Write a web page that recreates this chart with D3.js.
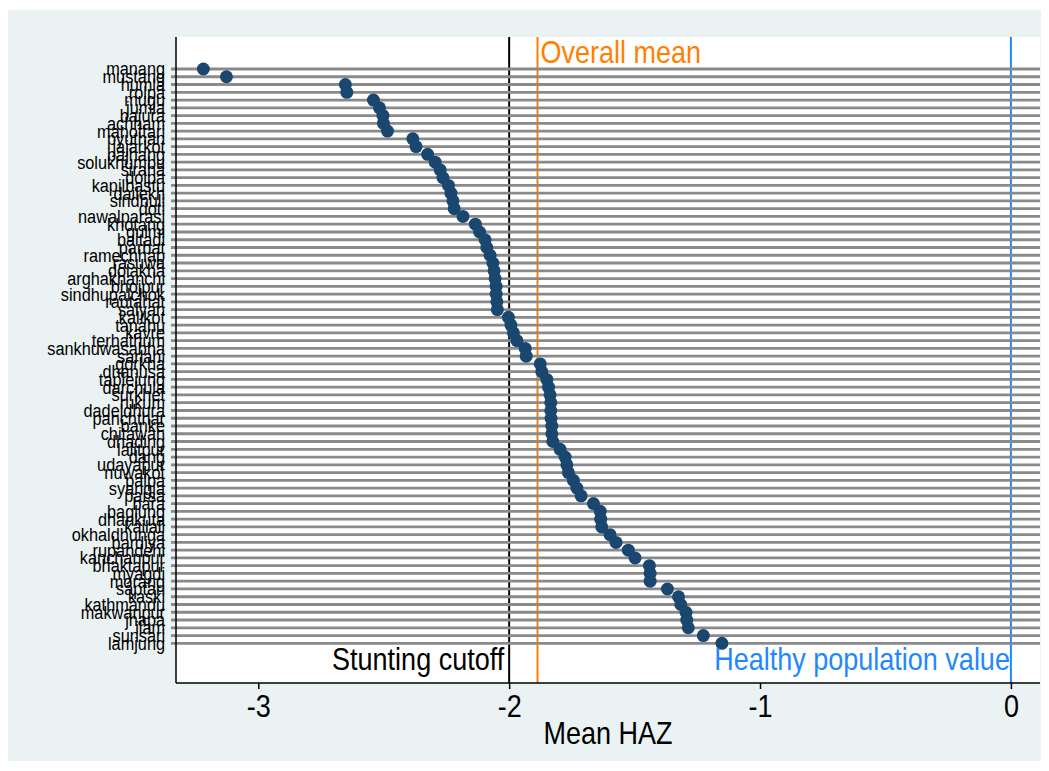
<!DOCTYPE html>
<html>
<head>
<meta charset="utf-8">
<script src="https://cdn.jsdelivr.net/npm/d3@7"></script>
<style>
  body { margin: 0; background: #ffffff; }
  svg { display: block; }
  text { font-family: "Liberation Sans", Arial, sans-serif; }
</style>
</head>
<body>
<script>
// districts, sorted by mean HAZ (top to bottom)
var districts = [
  'manang', 'mustang', 'humla', 'rolpa', 'mugu', 'jumla', 'bajura', 'achham', 'mahottari', 'pyuthan',
  'jajarkot', 'bajhang', 'solukhumbu', 'siraha', 'dolpa', 'kapilbastu', 'dailekh', 'sindhuli', 'doti', 'nawalparasi',
  'khotang', 'gulmi', 'baitadi', 'parbat', 'ramechhap', 'rasuwa', 'dolakha', 'arghakhanchi', 'bhojpur', 'sindhupalchok',
  'rautahat', 'salyan', 'kalikot', 'tanahu', 'kavre', 'terhathum', 'sankhuwasabha', 'sarlahi', 'gorkha', 'dhanusa',
  'taplejung', 'darchula', 'surkhet', 'rukum', 'dadeldhura', 'panchthar', 'banke', 'chitawan', 'dhading', 'lalitpur',
  'dang', 'udayapur', 'nuwakot', 'palpa', 'syangja', 'parsa', 'bara', 'baglung', 'dhankuta', 'kailali',
  'okhaldhunga', 'bardiya', 'rupandehi', 'kanchanpur', 'bhaktapur', 'myagdi', 'morang', 'saptari', 'kaski', 'kathmandu',
  'makwanpur', 'jhapa', 'ilam', 'sunsari', 'lamjung'
];

var meanHaz = [
  -3.219, -3.127, -2.653, -2.647, -2.541, -2.517, -2.503, -2.501, -2.485, -2.384,
  -2.371, -2.325, -2.295, -2.275, -2.264, -2.242, -2.232, -2.224, -2.219, -2.184,
  -2.135, -2.118, -2.096, -2.089, -2.076, -2.065, -2.060, -2.056, -2.052, -2.052,
  -2.049, -2.047, -2.003, -1.993, -1.983, -1.969, -1.936, -1.932, -1.876, -1.870,
  -1.850, -1.843, -1.837, -1.834, -1.834, -1.833, -1.830, -1.830, -1.826, -1.797,
  -1.777, -1.770, -1.764, -1.744, -1.730, -1.713, -1.664, -1.637, -1.635, -1.631,
  -1.598, -1.574, -1.525, -1.498, -1.441, -1.438, -1.438, -1.369, -1.325, -1.316,
  -1.295, -1.292, -1.286, -1.226, -1.152
];

var xTicks = [-3, -2, -1, 0];

// reference lines
var stuntingCutoff = -2;
var overallMean = -1.887;
var healthyValue = 0;

var chart = function() {
  var width = 1049;
  var height = 771;
  var plotLeft = 176;
  var plotRight = 1040;
  var plotTop = 37;
  var plotBottom = 683;
  var stretch = 1.14; // stata's glyphs come out taller than arial
  var bigFont = '27px';
  var svg, x, y;

  var createSvg = function() {
    svg = d3.select('body')
      .append('svg')
      .attr('width', width)
      .attr('height', height);

    svg.append('rect')
      .attr('x', 8)
      .attr('y', 10)
      .attr('width', 1033)
      .attr('height', 751)
      .style('fill', '#eaf2f3');

    svg.append('rect')
      .attr('x', plotLeft)
      .attr('y', plotTop)
      .attr('width', plotRight - plotLeft)
      .attr('height', plotBottom - plotTop)
      .style('fill', '#ffffff');
  };

  var setScales = function() {
    x = d3.scaleLinear().domain([-3.328, 0.116]).range([plotLeft, plotRight]);
    y = d3.scalePoint().domain(districts).range([69, 643.3]);
  };

  // put a text at (px, py) baseline, stretched vertically
  var placeText = function(sel, px, py) {
    return sel.attr('x', 0).attr('y', 0)
      .attr('transform', 'translate(' + px + ',' + py + ') scale(1,' + stretch + ')');
  };

  var drawRefLines = function() {
    var refs = [
      {value: stuntingCutoff, color: '#000000'},
      {value: overallMean, color: '#ff7f00'},
      {value: healthyValue, color: '#1e88ff'}
    ];
    svg.selectAll('.ref')
      .data(refs)
      .enter()
      .append('line')
      .attr('x1', function(d) { return x(d.value); })
      .attr('x2', function(d) { return x(d.value); })
      .attr('y1', plotTop)
      .attr('y2', plotBottom)
      .style('stroke', function(d) { return d.color; })
      .style('stroke-width', 2);
  };

  var drawRows = function() {
    svg.selectAll('.row')
      .data(districts)
      .enter()
      .append('line')
      .attr('x1', plotLeft - 5)
      .attr('x2', plotRight)
      .attr('y1', function(d) { return y(d); })
      .attr('y2', function(d) { return y(d); })
      .style('stroke', '#8a8a8a')
      .style('stroke-width', 2.8);
  };

  var drawDots = function() {
    svg.selectAll('.dot')
      .data(districts)
      .enter()
      .append('circle')
      .attr('cx', function(d, i) { return x(meanHaz[i]); })
      .attr('cy', function(d) { return y(d); })
      .attr('r', 6.5)
      .style('fill', '#1a476f');
  };

  var drawAxes = function() {
    var xAxis = svg.append('g')
      .attr('transform', 'translate(0,' + plotBottom + ')')
      .call(d3.axisBottom(x)
        .tickValues(xTicks)
        .tickSize(6)
        .tickFormat(function(d) { return String(d); }));
    xAxis.select('.domain').remove();
    xAxis.selectAll('line').style('stroke', '#000').style('stroke-width', 1.5);
    xAxis.selectAll('text')
      .attr('dy', null)
      .style('font-size', bigFont)
      .style('fill', '#000')
      .call(placeText, 0, 34);

    svg.append('line')
      .attr('x1', plotLeft)
      .attr('x2', plotRight)
      .attr('y1', plotBottom)
      .attr('y2', plotBottom)
      .style('stroke', '#000')
      .style('stroke-width', 1.5);

    var yAxis = svg.append('g')
      .attr('transform', 'translate(' + plotLeft + ',0)')
      .call(d3.axisLeft(y).tickSize(0).tickPadding(11));
    yAxis.select('.domain').remove();
    yAxis.selectAll('text')
      .style('font-size', '16.3px')
      .style('fill', '#000')
      .attr('transform', 'scale(1,' + stretch + ')');

    svg.append('line')
      .attr('x1', plotLeft)
      .attr('x2', plotLeft)
      .attr('y1', plotTop)
      .attr('y2', plotBottom)
      .style('stroke', '#000')
      .style('stroke-width', 1.5);

    svg.append('text')
      .attr('text-anchor', 'middle')
      .style('font-size', bigFont)
      .text('Mean HAZ')
      .call(placeText, (plotLeft + plotRight) / 2, 744);
  };

  var drawLabels = function() {
    svg.append('text')
      .style('font-size', bigFont)
      .style('fill', '#ff7f00')
      .text('Overall mean')
      .call(placeText, x(overallMean) + 3, 63);

    svg.append('text')
      .attr('text-anchor', 'end')
      .style('font-size', bigFont)
      .style('fill', '#000')
      .text('Stunting cutoff')
      .call(placeText, x(stuntingCutoff) - 5, 670);

    svg.append('text')
      .attr('text-anchor', 'end')
      .style('font-size', bigFont)
      .style('fill', '#1e88ff')
      .text('Healthy population value')
      .call(placeText, x(healthyValue) - 1, 670);
  };

  return {
    createSvg: createSvg,
    setScales: setScales,
    drawRefLines: drawRefLines,
    drawRows: drawRows,
    drawDots: drawDots,
    drawAxes: drawAxes,
    drawLabels: drawLabels
  };
}();

chart.createSvg();
chart.setScales();
chart.drawRefLines();
chart.drawRows();
chart.drawAxes();
chart.drawDots();
chart.drawLabels();
</script>
</body>
</html>
